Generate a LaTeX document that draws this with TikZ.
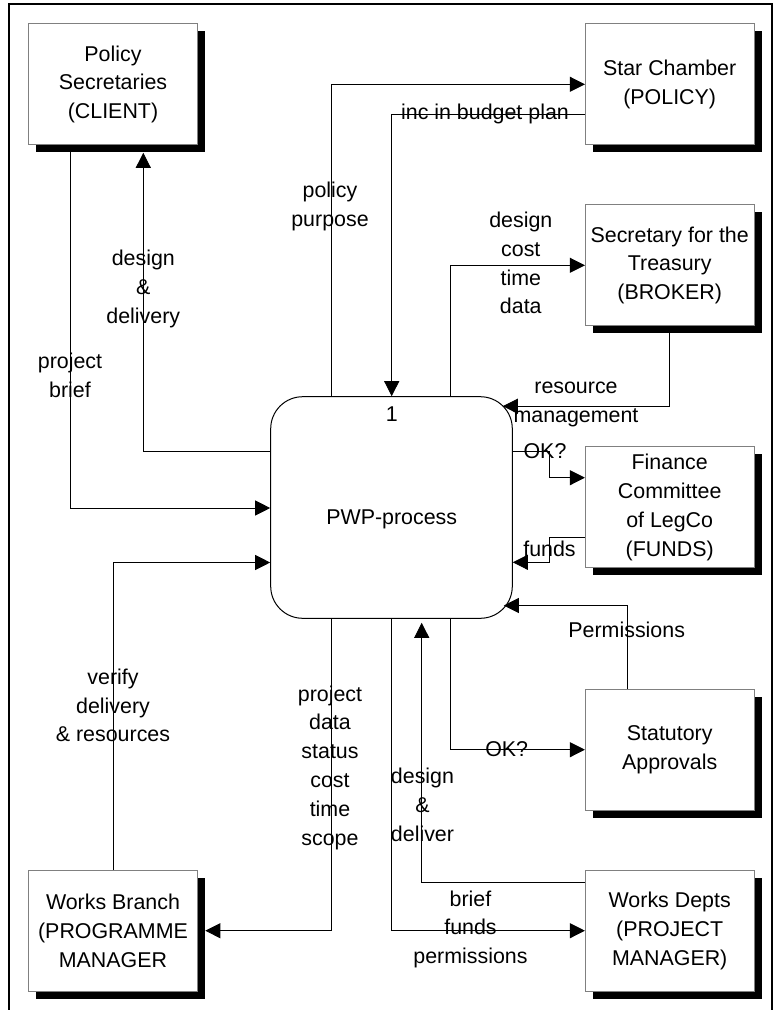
\documentclass[tikz,border=0pt]{standalone}
\usepackage{fontspec}
\setmainfont{Liberation Sans}
\usetikzlibrary{arrows.meta,shadows}
\definecolor{boxgray}{RGB}{128,128,128}
\newcommand\lblfont{\fontsize{21.4}{28.8}\selectfont}
\begin{document}
\begin{tikzpicture}[x=1pt,y=-1pt,
  ent/.style={draw=boxgray, line width=1pt, fill=white, minimum width=168.6pt,
    minimum height=121pt, inner sep=0pt, align=center, font=\lblfont,
    drop shadow={shadow xshift=7.5pt, shadow yshift=-7.5pt, fill=black, opacity=1}},
  lbl/.style={align=center, inner sep=0pt, font=\lblfont},
  flow/.style={line width=0.9pt, -{Triangle[length=15pt,width=15pt]}},
  frame/.style={line width=2pt}]
\useasboundingbox (0,0) rectangle (776,1010);
\draw[frame] (9,1010) -- (9,4.3) -- (772,4.3) -- (772,1010);

% entities
\node[ent] (ps) at (113,84.3) {Policy\\Secretaries\\(CLIENT)};
\node[ent] (star) at (669.7,84.3) {Star Chamber\\(POLICY)};
\node[ent] (treas) at (669.7,265.3) {Secretary for the\\Treasury\\(BROKER)};
\node[ent] (fin) at (669.7,507.3) {Finance\\Committee\\of LegCo\\(FUNDS)};
\node[ent] (stat) at (669.7,749.7) {Statutory\\Approvals};
\node[ent] (wd) at (669.7,930.7) {Works Depts\\(PROJECT\\MANAGER)};
\node[ent] (wb) at (113,930.7) {Works Branch\\(PROGRAMME\\MANAGER};

% process
\node[draw, line width=1pt, fill=white, rounded corners=32pt, minimum width=241.6pt,
  minimum height=221.6pt, inner sep=0pt] (proc) at (391.5,507.5) {};
\node[lbl] (pnum) at (391.7,414) {1};
\node[lbl] (pname) at (391.7,519) {PWP-process};

% connectors
\draw[flow] ([xshift=-42.3pt]ps.south) |- ([yshift=-0.5pt]proc.west);
\draw[flow] ([yshift=56pt]proc.west) -| ([xshift=30.3pt,yshift=-7.5pt]ps.south);
\draw[flow] ([xshift=-60.5pt]proc.north) |- (star.west);
\draw[flow] ([yshift=-30pt]star.west) -| ([xshift=0.2pt]proc.north);
\draw[flow] ([xshift=59pt]proc.north) |- (treas.west);
\draw[flow] (treas.south) |- ([xshift=-10pt,yshift=-10pt]proc.north east);
\draw[flow] ([yshift=56pt]proc.east) -- ++(37,0) |- ([yshift=29.6pt]fin.west);
\draw[flow] ([yshift=-30pt]fin.west) -- ++(-35.7,0) |- ([yshift=-54.8pt]proc.east);
\draw[flow] ([xshift=-42.4pt]stat.north) |- ([xshift=-9pt,yshift=13.3pt]proc.south east);
\draw[flow] ([xshift=59pt]proc.south) |- (stat.west);
\draw[flow] ([yshift=48pt]wd.west) -| ([xshift=30.2pt,yshift=-4pt]proc.south);
\draw[flow] (proc.south) |- (wd.west);
\draw[flow] ([xshift=-60.5pt]proc.south) |- ([xshift=7.5pt]wb.east);
\draw[flow] (wb.north) |- ([yshift=-55pt]proc.west);

% labels
\node[lbl] (l1) at (330,206.5) {policy\\purpose};
\node[lbl] (l2) at (143.3,288.7) {design\\\&\\delivery};
\node[lbl] (l3) at (70,375) {project\\brief};
\node[lbl] (l4) at (485,113.5) {inc in budget plan};
\node[lbl] (l5) at (520.8,263) {design\\cost\\time\\data};
\node[lbl] (l6) at (576,404.5) {resource\\management};
\node[lbl] (l7) at (545,451) {OK?};
\node[lbl] (l8) at (549.5,549.3) {funds};
\node[lbl] (l9) at (626.7,630) {Permissions};
\node[lbl] (l10) at (506.7,749) {OK?};
\node[lbl] (l11) at (422.5,805) {design\\\&\\deliver};
\node[lbl] (l12) at (470.5,929.3) {brief\\funds\\permissions};
\node[lbl] (l13) at (330,767.5) {project\\data\\status\\cost\\time\\scope};
\node[lbl] (l14) at (113,705.5) {verify\\delivery\\\& resources};
\end{tikzpicture}
\end{document}
